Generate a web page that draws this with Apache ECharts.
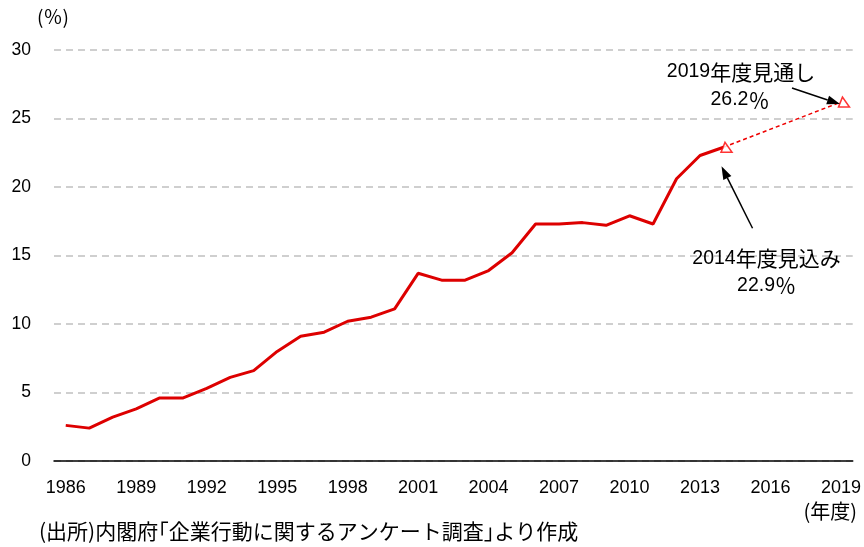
<!DOCTYPE html>
<html>
<head>
<meta charset="utf-8">
<script src="https://cdn.jsdelivr.net/npm/echarts@6/dist/echarts.min.js"></script>
<style>
html,body{margin:0;padding:0;background:#fff;}
#main{width:864px;height:547px;}
</style>
</head>
<body>
<div id="main"></div>
<script>
// ---- data ----
var years = ['1986','1987','1988','1989','1990','1991','1992','1993','1994','1995','1996','1997','1998','1999','2000','2001','2002','2003','2004','2005','2006','2007','2008','2009','2010','2011','2012','2013','2014','2015','2016','2017','2018','2019'];
var actual = [2.6,2.4,3.2,3.8,4.6,4.6,5.3,6.1,6.6,8.0,9.1,9.4,10.2,10.5,11.1,13.7,13.2,13.2,13.9,15.2,17.3,17.3,17.4,17.2,17.9,17.3,20.6,22.3,22.9];
var outlookYears = ['2014','2019'];
var outlookValues = [22.9, 26.2];
var outlookLabels = ['年度見込み', '年度見通し'];
var yTicks = [0,5,10,15,20,25,30];

var FONT = '"Liberation Sans", Arial, sans-serif';
var JFONT = '"Noto Sans CJK JP", sans-serif';

// build series arrays
var actualData = years.map(function(y, i){ return i < actual.length ? actual[i] : null; });
var outlookData = years.map(function(y){
  var k = outlookYears.indexOf(y);
  return k >= 0 ? outlookValues[k] : null;
});
var markerData = outlookYears.map(function(y, k){ return [y, outlookValues[k]]; });

var chart = echarts.init(document.getElementById('main'), null, {renderer:'canvas'});
var triPath = 'path://M4,0 L0,10 L11,10 Z';

chart.setOption({
  animation: false,
  backgroundColor: '#fff',
  grid: {left: 54, right: 11, top: 50, bottom: 86},
  xAxis: {
    type: 'category',
    data: years,
    boundaryGap: true,
    axisLine: {lineStyle: {color: '#000', width: 1.5}},
    axisTick: {inside: true, length: 5, interval: 0, lineStyle: {color: '#000', width: 1.2}},
    axisLabel: {interval: 2, color: '#000', fontSize: 18, fontFamily: FONT, margin: 18}
  },
  yAxis: {
    type: 'value',
    min: yTicks[0], max: yTicks[yTicks.length-1], interval: 5,
    axisLine: {show: false},
    axisTick: {show: false},
    axisLabel: {color: '#000', fontSize: 17.5, fontFamily: FONT, margin: 23},
    splitLine: {lineStyle: {color: '#c0c0c0', width: 1.5, type: [7,5]}}
  },
  series: [
    {
      type: 'line', data: actualData, symbol: 'none',
      lineStyle: {color: '#dd0000', width: 3}, z: 3
    },
    {
      type: 'line', data: outlookData, connectNulls: true, symbol: 'none',
      lineStyle: {color: '#ee0000', width: 1.5, type: [4,3]}, z: 2
    },
    {
      type: 'scatter', data: markerData, symbol: triPath, symbolSize: [11,10],
      symbolOffset: [3, 0],
      itemStyle: {color: '#fff', borderColor: '#ff0000', borderWidth: 1.5}, z: 4
    }
  ],
  graphic: [
    {type: 'text', left: 37, top: 7, style: {text: '(％)', font: '19px ' + JFONT, fill: '#000'}},
    {type: 'text', right: 7, top: 501, style: {text: '(年度)', font: '20px ' + JFONT, fill: '#000'}},
    {type: 'text', left: 39, top: 521, style: {text: '(出所)内閣府｢企業行動に関するアンケート調査｣より作成', font: '21px ' + JFONT, fill: '#000'}}
  ]
});

function arrow(x1, y1, x2, y2){
  var dx = x2 - x1, dy = y2 - y1, len = Math.sqrt(dx*dx + dy*dy);
  var ux = dx/len, uy = dy/len, hl = 13, hw = 4.5;
  var bx = x2 - ux*hl, by = y2 - uy*hl;
  return [
    {type: 'line', shape: {x1: x1, y1: y1, x2: bx, y2: by}, style: {stroke: '#000', lineWidth: 1.5}, z: 10},
    {type: 'polygon', shape: {points: [[x2,y2],[bx - uy*hw, by + ux*hw],[bx + uy*hw, by - ux*hw]]}, style: {fill: '#000'}, z: 10}
  ];
}
function label(x, y, text){
  return {type: 'text', x: x, y: y, z: 10, style: {
    text: text, textAlign: 'center', textVerticalAlign: 'middle', fill: '#000',
    rich: {
      n: {fontFamily: FONT, fontSize: 19.5, fill: '#000'},
      j: {fontFamily: JFONT, fontSize: 21, fill: '#000'}
    }
  }};
}

var p14 = chart.convertToPixel({xAxisIndex: 0, yAxisIndex: 0}, [outlookYears[0], outlookValues[0]]);
var p19 = chart.convertToPixel({xAxisIndex: 0, yAxisIndex: 0}, [outlookYears[1], outlookValues[1]]);

var extra = [];
extra = extra.concat(arrow(p14[0] + 29, p14[1] + 81, p14[0] - 2, p14[1] + 19));
extra = extra.concat(arrow(p19[0] - 49, p19[1] - 14, p19[0] - 1, p19[1] + 2));
extra.push(label(p14[0] + 43, p14[1] + 111, '{n|' + outlookYears[0] + '}{j|' + outlookLabels[0] + '}'));
extra.push(label(p14[0] + 43, p14[1] + 138, '{n|' + outlookValues[0].toFixed(1) + '}{j|％}'));
extra.push(label(p19[0] - 100, p19[1] - 30, '{n|' + outlookYears[1] + '}{j|' + outlookLabels[1] + '}'));
extra.push(label(p19[0] - 101, p19[1] - 2, '{n|' + outlookValues[1].toFixed(1) + '}{j|％}'));

var opt = chart.getOption();
chart.setOption({graphic: opt.graphic[0].elements.concat(extra)});
</script>
</body>
</html>
